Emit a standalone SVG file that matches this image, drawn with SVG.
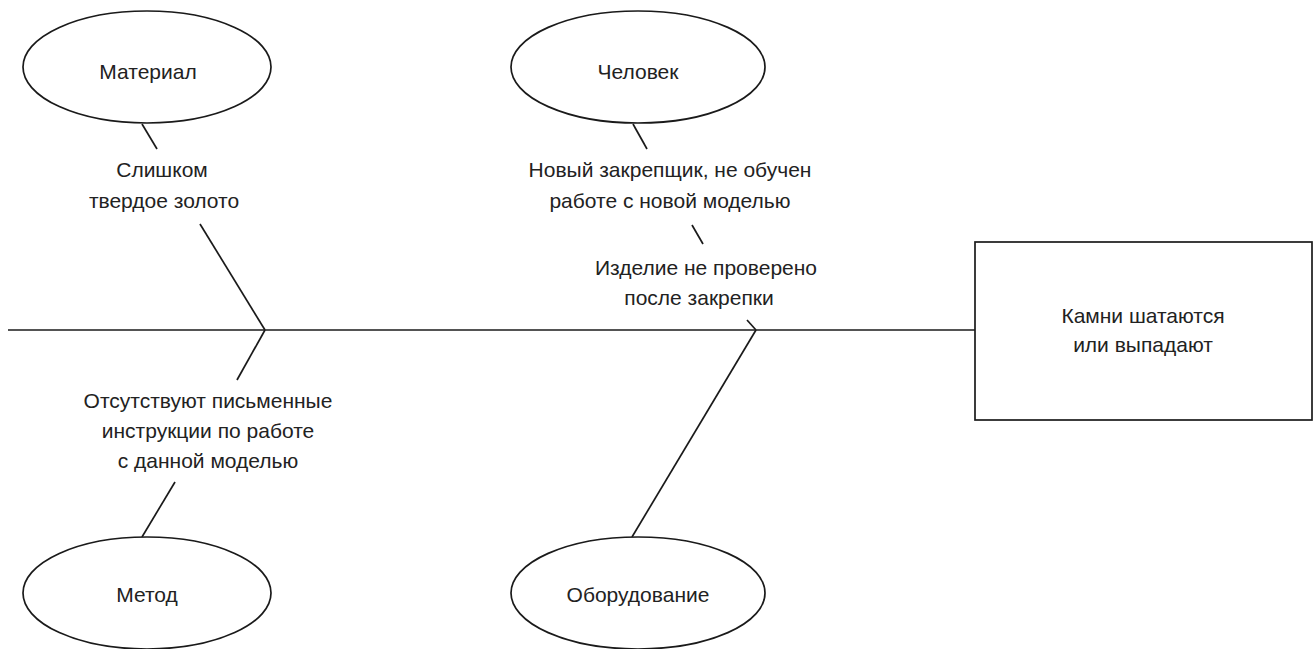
<svg xmlns="http://www.w3.org/2000/svg" width="1313" height="649" viewBox="0 0 1313 649">
<style>
.s{fill:none;stroke:#1a1a1a;stroke-width:1.7}
.n{fill:#fff;stroke:#1a1a1a;stroke-width:1.7}
text{font-family:"Liberation Sans",Arial,sans-serif;font-size:21px;fill:#222;text-anchor:middle}
</style>
<rect width="1313" height="649" fill="#fff"/>
<g id="connectors">
<line class="s" x1="8" y1="330" x2="975" y2="330"/>
<line class="s" x1="142" y1="124" x2="157" y2="149"/>
<line class="s" x1="200" y1="224" x2="265" y2="330"/>
<line class="s" x1="265" y1="330" x2="237" y2="380"/>
<line class="s" x1="175" y1="482" x2="142" y2="537"/>
<line class="s" x1="633" y1="124" x2="647" y2="149"/>
<line class="s" x1="692" y1="225" x2="703" y2="244"/>
<line class="s" x1="747" y1="320" x2="756" y2="330"/>
<line class="s" x1="756" y1="330" x2="632" y2="537"/>
</g>
<g id="effect">
<rect class="n" x="975" y="242" width="337" height="178"/>
<text x="1143" y="323">Камни шатаются</text>
<text x="1143" y="352">или выпадают</text>
</g>
<g id="material">
<ellipse class="n" cx="147" cy="67" rx="124" ry="56"/>
<text x="148" y="79">Материал</text>
</g>
<g id="man">
<ellipse class="n" cx="638" cy="67" rx="127" ry="56"/>
<text x="638" y="79">Человек</text>
</g>
<g id="method">
<ellipse class="n" cx="147" cy="593" rx="124" ry="56"/>
<text x="147" y="602">Метод</text>
</g>
<g id="equipment">
<ellipse class="n" cx="638" cy="593" rx="127" ry="56"/>
<text x="638" y="602">Оборудование</text>
</g>
<g id="cause-gold">
<text x="162" y="177">Слишком</text>
<text x="164" y="208">твердое золото</text>
</g>
<g id="cause-worker">
<text x="670" y="177">Новый закрепщик, не обучен</text>
<text x="670" y="208">работе с новой моделью</text>
</g>
<g id="cause-check">
<text x="706" y="275">Изделие не проверено</text>
<text x="699" y="305">после закрепки</text>
</g>
<g id="cause-instructions">
<text x="208" y="408">Отсутствуют письменные</text>
<text x="208" y="438">инструкции по работе</text>
<text x="208" y="468">с данной моделью</text>
</g>
</svg>
